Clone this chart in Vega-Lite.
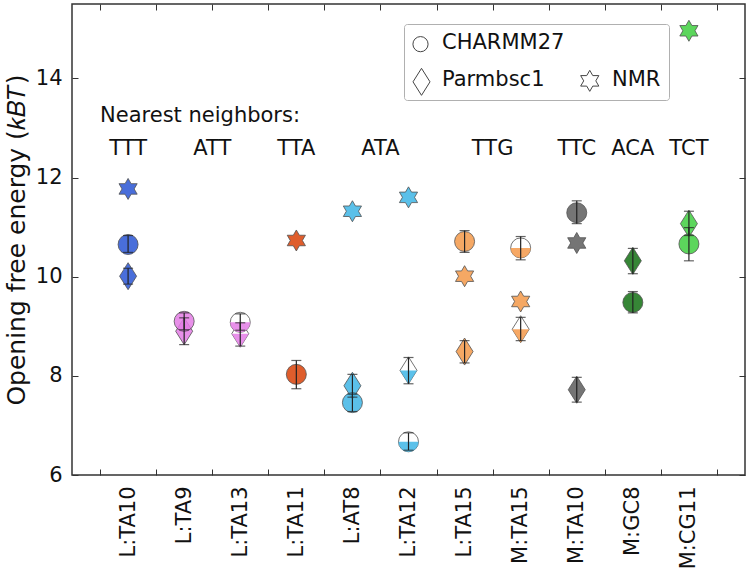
{
  "$schema": "https://vega.github.io/schema/vega-lite/v6.json",
  "width": 673,
  "height": 471,
  "autosize": {"type": "none"},
  "padding": {"left": 72, "top": 4, "right": 5, "bottom": 96},
  "config": {
    "font": "DejaVu Sans",
    "view": {"stroke": "#333", "strokeWidth": 1.5},
    "axis": {"domain": false, "grid": false, "tickColor": "#333", "tickWidth": 1, "tickSize": -6, "labelFont": "DejaVu Sans", "labelFontSize": 21, "labelColor": "#111", "titleFont": "DejaVu Sans", "titleFontSize": 25, "titleFontWeight": "normal", "titleColor": "#111"}
  },
  "datasets": {
    "sim": [
      {"id": "L:TA10", "nn": "TTT", "model": "CHARMM27", "value": 10.65, "lo": 10.49, "hi": 10.83, "half": false},
      {"id": "L:TA10", "nn": "TTT", "model": "Parmbsc1", "value": 10.01, "lo": 9.85, "hi": 10.17, "half": false},
      {"id": "L:TA9", "nn": "ATT", "model": "Parmbsc1", "value": 8.9, "lo": 8.63, "hi": 9.17, "half": false},
      {"id": "L:TA9", "nn": "ATT", "model": "CHARMM27", "value": 9.1, "lo": 8.93, "hi": 9.27, "half": false},
      {"id": "L:TA13", "nn": "ATT", "model": "Parmbsc1", "value": 8.85, "lo": 8.6, "hi": 9.07, "half": true},
      {"id": "L:TA13", "nn": "ATT", "model": "CHARMM27", "value": 9.08, "lo": 8.92, "hi": 9.25, "half": true},
      {"id": "L:TA11", "nn": "TTA", "model": "CHARMM27", "value": 8.03, "lo": 7.74, "hi": 8.31, "half": false},
      {"id": "L:AT8", "nn": "ATA", "model": "Parmbsc1", "value": 7.8, "lo": 7.57, "hi": 8.03, "half": false},
      {"id": "L:AT8", "nn": "ATA", "model": "CHARMM27", "value": 7.46, "lo": 7.28, "hi": 7.63, "half": false},
      {"id": "L:TA12", "nn": "ATA", "model": "CHARMM27", "value": 6.67, "lo": 6.5, "hi": 6.85, "half": true},
      {"id": "L:TA12", "nn": "ATA", "model": "Parmbsc1", "value": 8.11, "lo": 7.84, "hi": 8.37, "half": true},
      {"id": "L:TA15", "nn": "TTG", "model": "CHARMM27", "value": 10.71, "lo": 10.49, "hi": 10.93, "half": false},
      {"id": "L:TA15", "nn": "TTG", "model": "Parmbsc1", "value": 8.49, "lo": 8.26, "hi": 8.71, "half": false},
      {"id": "M:TA15", "nn": "TTG", "model": "CHARMM27", "value": 10.58, "lo": 10.34, "hi": 10.81, "half": true},
      {"id": "M:TA15", "nn": "TTG", "model": "Parmbsc1", "value": 8.94, "lo": 8.71, "hi": 9.18, "half": true},
      {"id": "M:TA10", "nn": "TTC", "model": "CHARMM27", "value": 11.29, "lo": 11.07, "hi": 11.53, "half": false},
      {"id": "M:TA10", "nn": "TTC", "model": "Parmbsc1", "value": 7.72, "lo": 7.47, "hi": 7.97, "half": false},
      {"id": "M:GC8", "nn": "ACA", "model": "CHARMM27", "value": 9.48, "lo": 9.27, "hi": 9.7, "half": false},
      {"id": "M:GC8", "nn": "ACA", "model": "Parmbsc1", "value": 10.32, "lo": 10.06, "hi": 10.57, "half": false},
      {"id": "M:CG11", "nn": "TCT", "model": "Parmbsc1", "value": 11.07, "lo": 10.83, "hi": 11.32, "half": false},
      {"id": "M:CG11", "nn": "TCT", "model": "CHARMM27", "value": 10.66, "lo": 10.32, "hi": 10.99, "half": false}
    ],
    "nmr": [
      {"id": "L:TA10", "nn": "TTT", "model": "NMR", "value": 11.77},
      {"id": "L:TA11", "nn": "TTA", "model": "NMR", "value": 10.73},
      {"id": "L:AT8", "nn": "ATA", "model": "NMR", "value": 11.32},
      {"id": "L:TA12", "nn": "ATA", "model": "NMR", "value": 11.6},
      {"id": "L:TA15", "nn": "TTG", "model": "NMR", "value": 10.01},
      {"id": "M:TA15", "nn": "TTG", "model": "NMR", "value": 9.5},
      {"id": "M:TA10", "nn": "TTC", "model": "NMR", "value": 10.68},
      {"id": "M:CG11", "nn": "TCT", "model": "NMR", "value": 14.96}
    ],
    "key": [
      {"id": "L:TA12", "model": "CHARMM27", "value": 14.69},
      {"id": "L:TA12", "model": "Parmbsc1", "value": 13.93},
      {"id": "M:TA10", "model": "NMR", "value": 13.95}
    ],
    "labels": [
      {"id": "L:TA10", "y": 12.57, "label": "TTT", "place": "center"},
      {"id": "L:TA13", "y": 12.57, "label": "ATT", "place": "edge"},
      {"id": "L:TA11", "y": 12.57, "label": "TTA", "place": "center"},
      {"id": "L:TA12", "y": 12.57, "label": "ATA", "place": "edge"},
      {"id": "M:TA15", "y": 12.57, "label": "TTG", "place": "edge"},
      {"id": "M:TA10", "y": 12.57, "label": "TTC", "place": "center"},
      {"id": "M:GC8", "y": 12.57, "label": "ACA", "place": "center"},
      {"id": "M:CG11", "y": 12.57, "label": "TCT", "place": "center"},
      {"id": "L:TA10", "y": 13.25, "label": "Nearest neighbors:", "place": "start"}
    ]
  },
  "layer": [
    {
      "data": {"name": "sim"},
      "transform": [{"filter": "datum.half"}],
      "mark": {"type": "point", "filled": true, "fill": "white", "size": 400, "opacity": 0.85, "stroke": "#333", "strokeWidth": 0.8},
      "encoding": {
        "x": {"field": "id", "type": "nominal", "sort": null,
          "scale": {"type": "band", "domain": ["L:TA10", "L:TA9", "L:TA13", "L:TA11", "L:AT8", "L:TA12", "L:TA15", "M:TA15", "M:TA10", "M:GC8", "M:CG11"], "paddingInner": 0, "paddingOuter": 0.5},
          "axis": {"orient": "bottom", "title": null, "labelAngle": -90, "tickBand": "extent", "labelPadding": 17}},
        "y": {"field": "value", "type": "quantitative",
          "scale": {"domain": [6, 15.5], "nice": false, "zero": false},
          "axis": {"orient": "left", "values": [6, 8, 10, 12, 14], "title": "Opening free energy (𝑘𝐵𝑇)", "labelPadding": 16, "titlePadding": 6}},
        "shape": {"field": "model", "type": "nominal",
          "scale": {"domain": ["CHARMM27", "Parmbsc1", " ", "NMR"], "range": ["circle", "M0,-1.35L0.85,0L0,1.35L-0.85,0Z", "M0,0L0,0Z", "M0,-1.05L0.303,-0.525L0.909,-0.525L0.606,0L0.909,0.525L0.303,0.525L0,1.05L-0.303,0.525L-0.909,0.525L-0.606,0L-0.909,-0.525L-0.303,-0.525Z"]},
          "legend": {"orient": "none", "legendX": 332, "legendY": 20, "columns": 2, "title": null, "values": ["CHARMM27", "Parmbsc1", " ", "NMR"], "strokeColor": "#b0b0b0", "cornerRadius": 3, "padding": 8, "labelFontSize": 21, "labelFont": "DejaVu Sans", "labelColor": "#111", "symbolSize": 300, "symbolOpacity": 0, "rowPadding": 14, "columnPadding": 17, "labelOffset": 9}}
      }
    },
    {
      "data": {"name": "sim"},
      "transform": [{"filter": "!datum.half"}],
      "mark": {"type": "point", "filled": true, "size": 400, "opacity": 0.85, "stroke": "#333", "strokeWidth": 0.8},
      "encoding": {
        "x": {"field": "id", "type": "nominal", "axis": null},
        "y": {"field": "value", "type": "quantitative", "axis": null},
        "shape": {"field": "model", "type": "nominal"},
        "fill": {"field": "nn", "type": "nominal",
          "scale": {"domain": ["TTT", "ATT", "TTA", "ATA", "TTG", "TTC", "ACA", "TCT"], "range": ["#2a55d4", "#e47de6", "#da4108", "#3fb6e6", "#f4994a", "#5e5e5e", "#137213", "#40cf40"]},
          "legend": null}
      }
    },
    {
      "data": {"name": "sim"},
      "transform": [{"filter": "datum.half && datum.model === 'CHARMM27'"}],
      "mark": {"type": "point", "filled": true, "size": 400, "opacity": 0.85, "strokeWidth": 0, "shape": "M1,0L0.966,0.259L0.866,0.5L0.707,0.707L0.5,0.866L0.259,0.966L0,1L-0.259,0.966L-0.5,0.866L-0.707,0.707L-0.866,0.5L-0.966,0.259L-1,0Z"},
      "encoding": {
        "x": {"field": "id", "type": "nominal", "axis": null},
        "y": {"field": "value", "type": "quantitative", "axis": null},
        "fill": {"field": "nn", "type": "nominal", "legend": null}
      }
    },
    {
      "data": {"name": "sim"},
      "transform": [{"filter": "datum.half && datum.model === 'Parmbsc1'"}],
      "mark": {"type": "point", "filled": true, "size": 400, "opacity": 0.85, "strokeWidth": 0, "shape": "M-0.85,0L0.85,0L0,1.35Z"},
      "encoding": {
        "x": {"field": "id", "type": "nominal", "axis": null},
        "y": {"field": "value", "type": "quantitative", "axis": null},
        "fill": {"field": "nn", "type": "nominal", "legend": null}
      }
    },
    {
      "data": {"name": "sim"},
      "mark": {"type": "errorbar", "ticks": true, "size": 10, "thickness": 1.2, "color": "#222"},
      "encoding": {
        "x": {"field": "id", "type": "nominal", "axis": null},
        "y": {"field": "lo", "type": "quantitative", "axis": null},
        "y2": {"field": "hi"}
      }
    },
    {
      "data": {"name": "nmr"},
      "mark": {"type": "point", "filled": true, "size": 400, "opacity": 0.85, "stroke": "#333", "strokeWidth": 0.8},
      "encoding": {
        "x": {"field": "id", "type": "nominal", "axis": {"orient": "top", "labels": false, "title": null, "tickBand": "extent"}},
        "y": {"field": "value", "type": "quantitative", "axis": {"orient": "right", "labels": false, "title": null, "values": [6, 8, 10, 12, 14]}},
        "shape": {"field": "model", "type": "nominal"},
        "fill": {"field": "nn", "type": "nominal", "legend": null}
      }
    },
    {
      "data": {"name": "key"},
      "transform": [{"filter": "datum.model === 'CHARMM27'"}],
      "mark": {"type": "point", "filled": true, "fill": "white", "size": 230, "opacity": 1, "stroke": "#444", "strokeWidth": 1, "xOffset": 12},
      "encoding": {
        "x": {"field": "id", "type": "nominal", "axis": null},
        "y": {"field": "value", "type": "quantitative", "axis": null},
        "shape": {"field": "model", "type": "nominal", "legend": null}
      }
    },
    {
      "data": {"name": "key"},
      "transform": [{"filter": "datum.model !== 'CHARMM27'"}],
      "mark": {"type": "point", "filled": true, "fill": "white", "size": 400, "opacity": 1, "stroke": "#444", "strokeWidth": 1, "xOffset": 13},
      "encoding": {
        "x": {"field": "id", "type": "nominal", "axis": null},
        "y": {"field": "value", "type": "quantitative", "axis": null},
        "shape": {"field": "model", "type": "nominal", "legend": null}
      }
    },
    {
      "data": {"name": "labels"},
      "transform": [{"filter": "datum.place === 'center'"}],
      "mark": {"type": "text", "fontSize": 21, "font": "DejaVu Sans", "color": "#111", "align": "center", "baseline": "middle"},
      "encoding": {
        "x": {"field": "id", "type": "nominal", "axis": null},
        "y": {"field": "y", "type": "quantitative", "axis": null},
        "text": {"field": "label"}
      }
    },
    {
      "data": {"name": "labels"},
      "transform": [{"filter": "datum.place === 'edge'"}],
      "mark": {"type": "text", "fontSize": 21, "font": "DejaVu Sans", "color": "#111", "align": "center", "baseline": "middle"},
      "encoding": {
        "x": {"field": "id", "type": "nominal", "bandPosition": 0, "axis": null},
        "y": {"field": "y", "type": "quantitative", "axis": null},
        "text": {"field": "label"}
      }
    },
    {
      "data": {"name": "labels"},
      "transform": [{"filter": "datum.place === 'start'"}],
      "mark": {"type": "text", "fontSize": 21, "font": "DejaVu Sans", "color": "#111", "align": "left", "baseline": "middle"},
      "encoding": {
        "x": {"field": "id", "type": "nominal", "bandPosition": 0, "axis": null},
        "y": {"field": "y", "type": "quantitative", "axis": null},
        "text": {"field": "label"}
      }
    }
  ],
  "resolve": {"axis": {"x": "independent", "y": "independent"}}
}
